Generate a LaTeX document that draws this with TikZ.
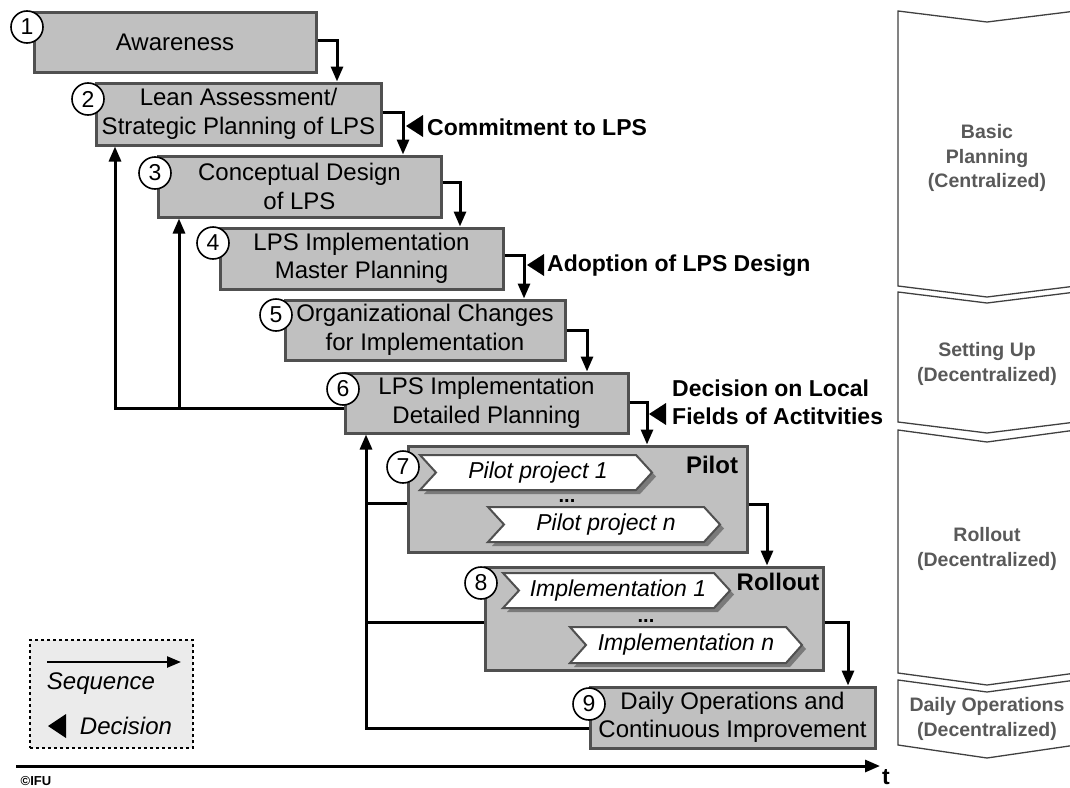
\documentclass[tikz,border=0pt]{standalone}
\usepackage{fontspec}
\setmainfont{Liberation Sans}
\usetikzlibrary{arrows.meta,calc}
\definecolor{boxfill}{HTML}{C0C0C0}
\definecolor{boxline}{HTML}{505050}
\definecolor{phasetext}{HTML}{595959}
\definecolor{phaseline}{HTML}{404040}
\definecolor{legfill}{HTML}{EBEBEB}
\definecolor{shadowgray}{HTML}{7A7A7A}
\newcommand\chevshape[4]{(#1,#2) -- ({#3-16},#2) -- (#3,{(#2+#4)/2}) -- ({#3-16},#4) -- (#1,#4) -- ({#1+16},{(#2+#4)/2}) -- cycle}
\begin{document}
\begin{tikzpicture}[x=1pt,y=-1pt,
  stage/.style={draw=boxline, line width=3pt, fill=boxfill, inner sep=0pt, align=center,
    font=\fontsize{24}{28.5}\selectfont},
  num/.style={circle, draw=black, line width=1.6pt, fill=white, minimum size=32pt, inner sep=0pt,
    font=\fontsize{23}{23}\selectfont},
  seq/.style={line width=3pt, -{Triangle[length=15pt,width=12pt]}},
  fbline/.style={line width=3pt},
  declabel/.style={anchor=west, inner sep=0pt, align=left, font=\fontsize{23}{28}\selectfont\bfseries},
  chevtext/.style={inner sep=0pt, font=\fontsize{23}{23}\selectfont\itshape},
  phase/.style={draw=phaseline, line width=1.3pt, fill=white},
  phasetxt/.style={align=center, text=phasetext, inner sep=0pt, font=\fontsize{19.5}{24.5}\selectfont\bfseries},
  grouplabel/.style={inner sep=0pt, font=\fontsize{24}{24}\selectfont\bfseries},
  dotslabel/.style={inner sep=0pt, anchor=base, font=\fontsize{20}{20}\selectfont\bfseries},
  legtext/.style={inner sep=0pt, font=\fontsize{24}{24}\selectfont\itshape}
]
\useasboundingbox (0,0) rectangle (1070,787);

% ---------- right phase panels ----------
\begin{scope}
\clip (0,0) rectangle (1070,787);
\draw[phase] (898,11) -- (987,22) -- (1076,11) -- (1076,286) -- (987,297) -- (898,286) -- cycle;
\draw[phase] (898,292) -- (987,303) -- (1076,292) -- (1076,422) -- (987,433) -- (898,422) -- cycle;
\draw[phase] (898,430) -- (987,442) -- (1076,430) -- (1076,673) -- (987,685) -- (898,673) -- cycle;
\draw[phase] (898,680) -- (987,692) -- (1076,680) -- (1076,745) -- (987,758) -- (898,745) -- cycle;
\end{scope}
\node[phasetxt] (p1) at (987,158) {Basic\\Planning\\(Centralized)};
\node[phasetxt] (p2) at (987,364) {Setting Up\\(Decentralized)};
\node[phasetxt] (p3) at (987,549) {Rollout\\(Decentralized)};
\node[phasetxt] (p4) at (987,719) {Daily Operations\\(Decentralized)};

% ---------- stage boxes ----------
\node[stage, minimum width=282pt, minimum height=60pt] (b1) at (175,42) {Awareness};
\node[stage, minimum width=285pt, minimum height=62pt] (b2) at (238.5,114) {Lean Assessment/\\Strategic Planning of LPS};
\node[stage, minimum width=283pt, minimum height=61pt] (b3) at (299.5,186.5) {Conceptual Design\\of LPS};
\node[stage, minimum width=283pt, minimum height=61pt] (b4) at (361.5,258.5) {LPS Implementation\\Master Planning};
\node[stage, minimum width=280pt, minimum height=60pt] (b5) at (425,330) {Organizational Changes\\for Implementation};
\node[stage, minimum width=283pt, minimum height=60pt] (b6) at (486.5,403) {LPS Implementation\\Detailed Planning};
\node[stage, minimum width=339pt, minimum height=106pt] (b7) at (577.5,499) {};
\node[stage, minimum width=338pt, minimum height=103pt] (b8) at (654,618.5) {};
\node[stage, minimum width=285pt, minimum height=61pt] (b9) at (732.5,717.5) {Daily Operations and\\Continuous Improvement};

% ---------- pilot / rollout contents ----------
\fill[shadowgray, shift={(4,4)}] \chevshape{420}{455}{652}{490};
\draw[draw=boxline, line width=2pt, fill=white] \chevshape{420}{455}{652}{490};
\node[chevtext] (pp1) at (538,472.5) {Pilot project 1};
\fill[shadowgray, shift={(4,4)}] \chevshape{488}{507}{720}{542};
\draw[draw=boxline, line width=2pt, fill=white] \chevshape{488}{507}{720}{542};
\node[chevtext] (ppn) at (606,524.5) {Pilot project n};
\node[dotslabel] (dots7) at (567,502) {...};
\node[grouplabel] (pilot) at (712,465) {Pilot};

\fill[shadowgray, shift={(4,4)}] \chevshape{503}{573}{730}{608};
\draw[draw=boxline, line width=2pt, fill=white] \chevshape{503}{573}{730}{608};
\node[chevtext] (im1) at (618,590.5) {Implementation 1};
\fill[shadowgray, shift={(4,4)}] \chevshape{570}{627}{802}{663};
\draw[draw=boxline, line width=2pt, fill=white] \chevshape{570}{627}{802}{663};
\node[chevtext] (imn) at (686,645) {Implementation n};
\node[dotslabel] (dots8) at (646,622) {...};
\node[grouplabel] (rollout) at (778,582) {Rollout};

% ---------- number circles ----------
\node[num] (n1) at (27,27) {1};
\node[num] (n2) at (88,99) {2};
\node[num] (n3) at (155,173) {3};
\node[num] (n4) at (213,243) {4};
\node[num] (n5) at (276,315) {5};
\node[num] (n6) at (343,389) {6};
\node[num] (n7) at (403,467) {7};
\node[num] (n8) at (481,583) {8};
\node[num] (n9) at (589,704) {9};

% ---------- sequence arrows ----------
\coordinate (s12) at (337,40);
\coordinate (s23) at (403,112);
\coordinate (s34) at (460,182);
\coordinate (s45) at (524,255);
\coordinate (s56) at (587,330);
\coordinate (s67) at (647,402);
\coordinate (s78) at (767,504);
\coordinate (s89) at (848,622);
\draw[seq] (b1.east |- s12) -- (s12) -- (s12 |- b2.north);
\draw[seq] (b2.east |- s23) -- (s23) -- (s23 |- b3.north);
\draw[seq] (b3.east |- s34) -- (s34) -- (s34 |- b4.north);
\draw[seq] (b4.east |- s45) -- (s45) -- (s45 |- b5.north);
\draw[seq] (b5.east |- s56) -- (s56) -- (s56 |- b6.north);
\draw[seq] (b6.east |- s67) -- (s67) -- (s67 |- b7.north);
\draw[seq] (b7.east |- s78) -- (s78) -- (s78 |- b8.north);
\draw[seq] (b8.east |- s89) -- (s89) -- (s89 |- b9.north);

% ---------- feedback arrows ----------
\coordinate (fa) at (115,408);
\coordinate (fb) at (179,408);
\draw[seq] (b6.west |- fa) -- (fa) -- (fa |- b2.south);
\draw[seq] (fb) -- (fb |- b3.south);
\coordinate (fc) at (366,728);
\coordinate (fd) at (366,503);
\coordinate (fe) at (366,622);
\draw[seq] (b9.west |- fc) -- (fc) -- (fc |- b6.south);
\draw[fbline] (b7.west |- fd) -- (fd);
\draw[fbline] (b8.west |- fe) -- (fe);

% ---------- decisions ----------
\fill (406,126) -- ++(17,-11) -- ++(0,22) -- cycle;
\node[declabel] (d1) at (427,127) {Commitment to LPS};
\fill (527,265) -- ++(17,-11) -- ++(0,22) -- cycle;
\node[declabel] (d2) at (547,266) {Adoption of LPS Design};
\fill (649,414) -- ++(17,-11) -- ++(0,22) -- cycle;
\node[declabel] (d3) at (672,402) {Decision on Local\\Fields of Actitvities};

% ---------- legend ----------
\node[draw=black, dashed, line width=1.3pt, fill=legfill, minimum width=163pt, minimum height=108pt, inner sep=0pt] (leg) at (111.5,694) {};
\coordinate (lg1) at (47,662);
\coordinate (lg2) at (181,662);
\draw[line width=2.4pt, -{Triangle[length=14pt,width=11pt]}] (lg1) -- (lg2);
\node[legtext] (lseq) at (101,684) {Sequence};
\fill (48,726) -- ++(18,-12) -- ++(0,24) -- cycle;
\node[legtext] (ldec) at (126,726) {Decision};

% ---------- time axis ----------
\coordinate (ax0) at (16,766);
\coordinate (ax1) at (880,766);
\draw[line width=3pt, -{Triangle[length=15pt,width=12pt]}] (ax0) -- (ax1);
\node[inner sep=0pt, anchor=base, font=\fontsize{23}{23}\selectfont\bfseries] (tlab) at (886,784) {t};
\node[inner sep=0pt, font=\fontsize{13}{13}\selectfont\bfseries] (ifu) at (36,781) {©IFU};
\end{tikzpicture}
\end{document}
